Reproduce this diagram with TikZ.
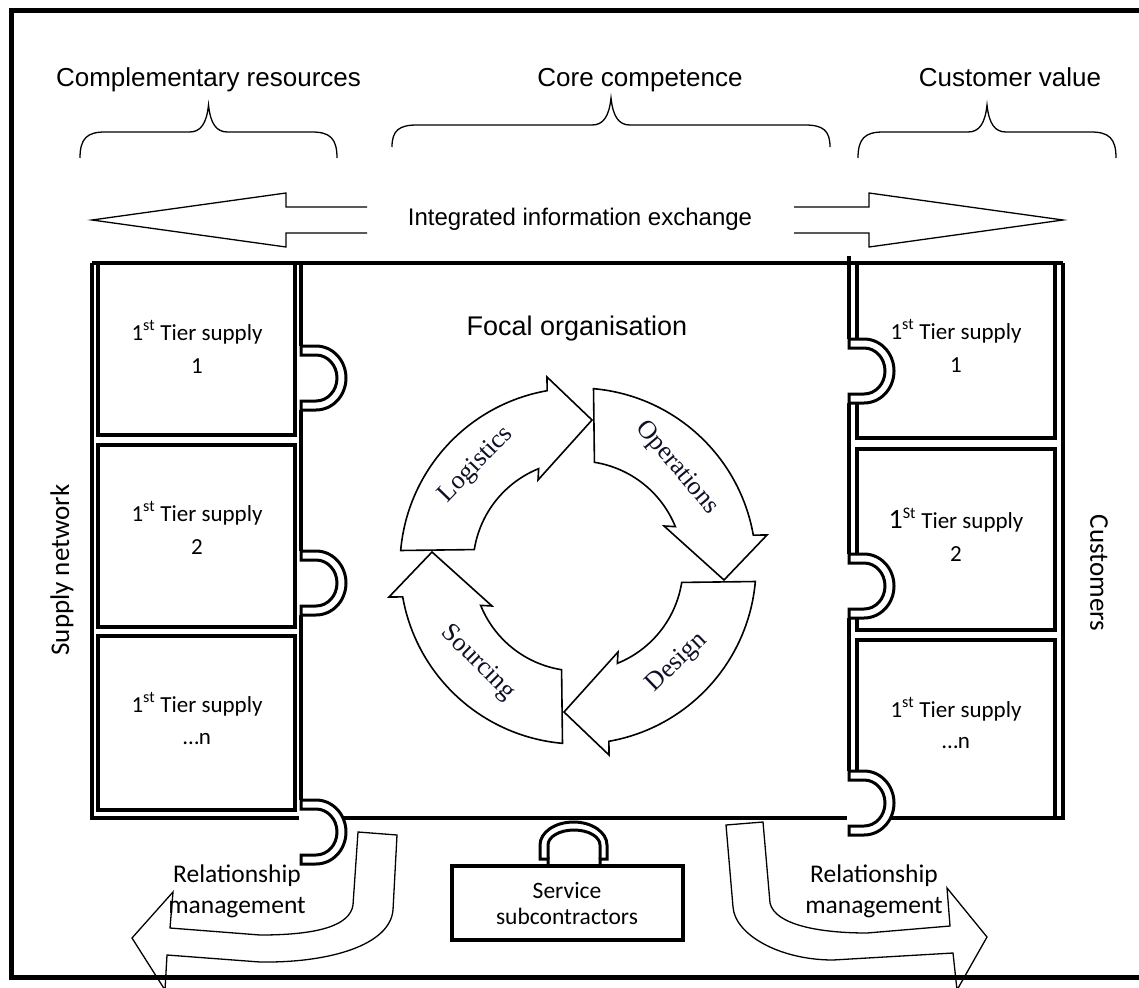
\documentclass[tikz,border=0pt]{standalone}
\usepackage{fontspec}
\setmainfont{Liberation Sans}
\newfontfamily\calibrifont{Carlito}
\newfontfamily\timesfont{Liberation Serif}

\tikzset{
  frameline/.style={line width=5.5pt},
  boxline/.style={line width=3.2pt},
  tabline/.style={line width=3pt},
  outline/.style={line width=1.3pt},
  cyclearrow/.style={line width=1.6pt, fill=white},
  toplabel/.style={font=\fontsize{26}{30}\selectfont, anchor=base, inner sep=0pt},
  infolabel/.style={font=\fontsize{24}{28}\selectfont, anchor=base, inner sep=0pt},
  boxtext/.style={font=\calibrifont\fontsize{23}{28}\selectfont, anchor=base, inner sep=0pt},
  reltext/.style={font=\calibrifont\fontsize{25.5}{30}\selectfont, anchor=base, inner sep=0pt},
  svctext/.style={font=\calibrifont\fontsize{23.5}{28}\selectfont, anchor=base, inner sep=0pt},
  sidelabel/.style={font=\calibrifont\fontsize{27}{32}\selectfont, inner sep=0pt},
  cyclelabel/.style={font=\timesfont\fontsize{26}{30}\selectfont, inner sep=0pt, text={rgb,255:red,15;green,15;blue,40}},
}

% curly brace: left x, right x, end y, flat y, tip y
\newcommand\curlybrace[5]{%
  \pgfmathsetmacro\bmid{(#1+#2)/2}%
  \draw[outline] (#1,#3) .. controls (#1,{#3+0.75*(#4-#3)}) and ({#1+7},#4) .. ({#1+25},#4)
    -- ({\bmid-19},#4) .. controls ({\bmid-8},#4) and ({\bmid-2},{#4+8}) .. (\bmid,#5)
    .. controls ({\bmid+2},{#4+8}) and ({\bmid+8},#4) .. ({\bmid+19},#4)
    -- ({#2-25},#4) .. controls ({#2-7},#4) and (#2,{#3+0.75*(#4-#3)}) .. (#2,#3);}

% half-ring joint on a seam: x of the seam, y of the joint centre
\newcommand\jointab[2]{%
  \begin{scope}[shift={(#1,#2)}]
    \fill[white] (-2,32) -- (15,32) .. controls (31.6,32) and (45,17.7) .. (45,0)
      .. controls (45,-17.7) and (31.6,-32) .. (15,-32) -- (-2,-32) -- cycle;
    \draw[tabline] (0,32) -- (15,32) .. controls (31.6,32) and (45,17.7) .. (45,0)
      .. controls (45,-17.7) and (31.6,-32) .. (15,-32) -- (0,-32) -- (0,-23) -- (15,-23)
      .. controls (26.6,-23) and (36,-12.7) .. (36,0) .. controls (36,12.7) and (26.6,23) .. (15,23)
      -- (0,23) -- cycle;
  \end{scope}}

\begin{document}
\begin{tikzpicture}[x=1pt, y=1pt, line join=miter]
\useasboundingbox (0,0) rectangle (1139,-987);
\clip (0,0) rectangle (1139,-987);

% outer frame
\draw[frameline] (1150,-10.5) -- (11.5,-10.5) -- (11.5,-977.5) -- (1150,-977.5);

% headings with braces
\node[toplabel] (comp) at (208.5,-87) {Complementary resources};
\node[toplabel] (core) at (640,-87) {Core competence};
\node[toplabel] (cval) at (1010,-87) {Customer value};
\curlybrace{80}{337}{-158}{-132}{-105}
\curlybrace{392}{830}{-147}{-125}{-98}
\curlybrace{858}{1116}{-158}{-132}{-105}

% information exchange arrows
\draw[outline] (367,-207) -- (286,-207) -- (286,-193) -- (92,-220) -- (286,-247) -- (286,-233) -- (367,-233);
\draw[outline] (794,-207) -- (869,-207) -- (869,-193) -- (1063,-220) -- (869,-247) -- (869,-233) -- (794,-233);
\node[infolabel] (info) at (580,-225) {Integrated information exchange};

% seams of the three blocks
\draw[boxline] (92,-263) -- (1063,-263);
\draw[boxline] (849,-256) -- (849,-818);
\draw[boxline] (92,-263) -- (92,-818) -- (1063,-818) -- (1063,-263);
\draw[boxline] (301,-263) -- (301,-818);

% supply boxes
\draw[boxline] (98,-263) rectangle (295,-435);
\draw[boxline] (98,-445) rectangle (295,-627);
\draw[boxline] (98,-636) rectangle (295,-810);
% customer boxes
\draw[boxline] (857,-263) rectangle (1055,-438);
\draw[boxline] (857,-449) rectangle (1055,-630);
\draw[boxline] (857,-640) rectangle (1055,-818);

% joints
\jointab{301}{-378}
\jointab{301}{-583}
\jointab{301}{-832}
\jointab{849}{-371}
\jointab{849}{-586}
\jointab{849}{-803}

% box texts
\node[boxtext] (s1a) at (197,-340) {1\textsuperscript{st} Tier supply};
\node[boxtext] (s1b) at (197,-373) {1};
\node[boxtext] (s2a) at (197,-521) {1\textsuperscript{st} Tier supply};
\node[boxtext] (s2b) at (197,-554) {2};
\node[boxtext] (s3a) at (197,-712) {1\textsuperscript{st} Tier supply};
\node[boxtext] (s3b) at (197,-744) {…n};
\node[boxtext] (c1a) at (956,-339) {1\textsuperscript{st} Tier supply};
\node[boxtext] (c1b) at (956,-372) {1};
\node[boxtext] (c2a) at (956,-528) {{\fontsize{28}{30}\selectfont 1}\textsuperscript{St} Tier supply};
\node[boxtext] (c2b) at (956,-561) {2};
\node[boxtext] (c3a) at (956,-717) {1\textsuperscript{st} Tier supply};
\node[boxtext] (c3b) at (956,-748) {…n};

% side labels
\node[sidelabel, rotate=90] (supnet) at (62,-570) {Supply network};
\node[sidelabel, rotate=-90] (cust) at (1099,-573) {Customers};

% focal organisation
\node[font=\fontsize{27}{32}\selectfont, anchor=base, inner sep=0pt] (focal) at (577,-335) {Focal organisation};

\begin{scope}[shift={(578,-566)}]
  \foreach \r in {0,-90,-180,-270} {
    \draw[cyclearrow, rotate=\r] (175:178) arc[start angle=175, end angle=100, radius=178]
      -- (-31,189) -- (14,146) -- (-40,86) -- (112:105)
      arc[start angle=112, end angle=171, radius=105] -- cycle;
  }
\end{scope}
\node[cyclelabel, rotate=46] (logtxt) at (476,-465) {Logistics};
\node[cyclelabel, rotate=-50] (opstxt) at (677,-468) {Operations};
\node[cyclelabel, rotate=44] (destxt) at (677,-663) {Design};
\node[cyclelabel, rotate=-45] (srctxt) at (478,-663) {Sourcing};

% service subcontractors
\draw[boxline] (452,-866) rectangle (683,-940);
\draw[tabline] (548,-866) -- (548,-859) -- (540,-859) -- (540,-845)
  .. controls (540,-832.3) and (555,-822) .. (573.5,-822)
  .. controls (592,-822) and (607,-832.3) .. (607,-845) -- (607,-859) -- (600,-859) -- (600,-866);
\draw[tabline] (548,-859) -- (548,-845) .. controls (548,-836.7) and (559.6,-830) .. (574,-830)
  .. controls (588.4,-830) and (600,-836.7) .. (600,-845) -- (600,-859);
\node[svctext] (svc1) at (567,-898) {Service};
\node[svctext] (svc2) at (567,-924) {subcontractors};

% relationship management arrows
\draw[outline] (358,-832) -- (397,-835) -- (393,-910) .. controls (390,-945) and (330,-963) .. (260,-962)
  -- (167,-955) -- (165,-990) -- (132,-938) -- (173,-892) -- (170,-928) -- (260,-935)
  .. controls (320,-935) and (350,-925) .. (353,-905) -- cycle;
\draw[outline] (726,-825) -- (763,-822) -- (770,-903) .. controls (775,-925) and (820,-933) .. (867,-933)
  -- (950,-926) -- (947,-888) -- (987,-937) -- (957,-990) -- (953,-953) -- (833,-960)
  .. controls (780,-960) and (735,-935) .. (733,-907) -- cycle;
\node[reltext] (rel1a) at (237,-882) {Relationship};
\node[reltext] (rel1b) at (237,-913) {management};
\node[reltext] (rel2a) at (874,-882) {Relationship};
\node[reltext] (rel2b) at (874,-913) {management};
\end{tikzpicture}
\end{document}
